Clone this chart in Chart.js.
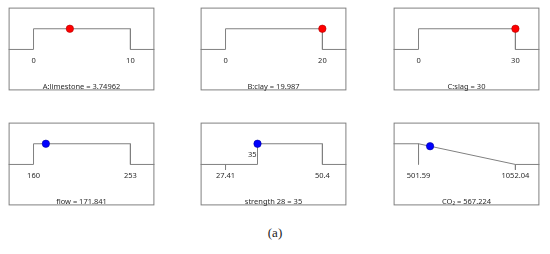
<!DOCTYPE html>
<html>
<head>
<meta charset="utf-8">
<script src="https://cdn.jsdelivr.net/npm/chart.js@4/dist/chart.umd.min.js"></script>
<style>
  html, body { margin: 0; padding: 0; background: #ffffff; }
  body { width: 550px; height: 254px; position: relative; overflow: hidden; }
  canvas { position: absolute; }
  #caption { position: absolute; left: 0; width: 550px; top: 225px; text-align: center;
             font-family: "Liberation Serif", "DejaVu Serif", serif; font-size: 13px; color: #222; }
</style>
</head>
<body>
<canvas id="p0"></canvas>
<canvas id="p1"></canvas>
<canvas id="p2"></canvas>
<canvas id="p3"></canvas>
<canvas id="p4"></canvas>
<canvas id="p5"></canvas>
<div id="caption">(a)</div>
<script>
// ---- data ----
const panelNames   = ["A:limestone", "B:clay", "C:slag", "flow", "strength 28", "CO\u2082"];
const currentLabels = ["3.74962", "19.987", "30", "171.841", "35", "567.224"];
const lowLimits    = [0, 0, 0, 160, 27.41, 501.59];
const highLimits   = [10, 20, 30, 253, 50.4, 1052.04];
const lowLabels    = ["0", "0", "0", "160", "27.41", "501.59"];
const highLabels   = ["10", "20", "30", "253", "50.4", "1052.04"];
const currentValues = [3.74962, 19.987, 30, 171.841, 35, 567.224];
const currentDesirability = [1, 1, 1, 1, 1, 0.8808];
const isFactor     = [true, true, true, false, false, false];

// desirability curve break points (x value, desirability)
const rangeCurveX    = [[0, 0, 10, 10], [0, 0, 20, 20], [0, 0, 30, 30], [160, 160, 253, 253], [35, 35, 50.4, 50.4], [501.59, 1052.04]];
const rangeCurveD    = [[0, 1, 1, 0], [0, 1, 1, 0], [0, 1, 1, 0], [0, 1, 1, 0], [0, 1, 1, 0], [1, 0]];
// extra limit tick segments (x, d from, d to)
const tickX    = [[], [], [], [], [27.41], [501.59, 1052.04]];
const tickFrom = [[], [], [], [], [0], [1, 0]];
const tickTo   = [[], [], [], [], [-0.26], [0, -0.26]];
// goal label shown at the step (strength 28)
const goalLabelX = [null, null, null, null, 35, null];
const goalLabelText = ["", "", "", "", "35", ""];

// ---- layout ----
const colLeft = [4, 196, 389];
const rowTop = [3, 118];
const W = 155, H = 92;
const LINE = '#808080';
const TEXT = '#2a2a2a';
const FONT = '7.5px "Noto Sans", "Open Sans", sans-serif';

const panelPlugin = {
  id: 'panelDeco',
  afterDraw(chart, args, o) {
    const ctx = chart.ctx, a = chart.chartArea;
    const xs = chart.scales.x, ys = chart.scales.y;
    const i = o.idx;
    ctx.save();
    ctx.strokeStyle = LINE; ctx.lineWidth = 1;
    ctx.strokeRect(a.left + 0.5, a.top + 0.5, a.right - a.left - 1, a.bottom - a.top - 1);
    ctx.fillStyle = TEXT; ctx.font = FONT;
    ctx.textAlign = 'center'; ctx.textBaseline = 'middle';
    const ly = ys.getPixelForValue(-0.54);
    ctx.fillText(lowLabels[i], xs.getPixelForValue(lowLimits[i]), ly);
    ctx.fillText(highLabels[i], xs.getPixelForValue(highLimits[i]), ly);
    ctx.fillText(panelNames[i] + " = " + currentLabels[i], (a.left + a.right) / 2, ys.getPixelForValue(-1.81));
    if (goalLabelX[i] !== null) {
      ctx.textAlign = 'right';
      ctx.fillText(goalLabelText[i], xs.getPixelForValue(goalLabelX[i]) - 1, ys.getPixelForValue(0.48));
    }
    ctx.restore();
  }
};

for (let i = 0; i < 6; i++) {
  const cv = document.getElementById('p' + i);
  cv.width = W; cv.height = H;
  cv.style.width = W + 'px'; cv.style.height = H + 'px';
  cv.style.left = colLeft[i % 3] + 'px';
  cv.style.top = rowTop[Math.floor(i / 3)] + 'px';

  const lo = lowLimits[i], hi = highLimits[i], span = hi - lo;
  const xmin = lo - 26.5 / 103 * span;
  const xmax = lo + 128.5 / 103 * span;

  const cx = rangeCurveX[i], cd = rangeCurveD[i];
  const curve = [{x: xmin, y: cd[0]}];
  for (let k = 0; k < cx.length; k++) curve.push({x: cx[k], y: cd[k]});
  curve.push({x: xmax, y: cd[cd.length - 1]});

  const ticks = [];
  for (let k = 0; k < tickX[i].length; k++) {
    ticks.push({x: tickX[i][k], y: tickFrom[i][k]});
    ticks.push({x: tickX[i][k], y: tickTo[i][k]});
    ticks.push({x: tickX[i][k], y: null});
  }

  const dotFill = isFactor[i] ? '#ff0000' : '#0000ff';
  const dotEdge = isFactor[i] ? '#b00000' : '#0000a0';

  new Chart(cv, {
    type: 'scatter',
    data: {
      datasets: [
        { data: [{x: currentValues[i], y: currentDesirability[i]}], pointRadius: 3.7,
          backgroundColor: dotFill, borderColor: dotEdge, borderWidth: 0.6, showLine: false, order: 0 },
        { data: curve, showLine: true, pointRadius: 0, borderColor: LINE, borderWidth: 1,
          fill: false, tension: 0, order: 1 },
        { data: ticks, showLine: true, spanGaps: false, pointRadius: 0, borderColor: LINE, borderWidth: 1,
          fill: false, order: 2 }
      ]
    },
    options: {
      responsive: false, animation: false, devicePixelRatio: 1,
      layout: { padding: 0 },
      events: [],
      clip: false,
      plugins: { legend: { display: false }, tooltip: { enabled: false }, panelDeco: { idx: i } },
      scales: {
        x: { type: 'linear', display: false, min: xmin, max: xmax },
        y: { type: 'linear', display: false, min: -(H - 46.5) / 23, max: 46.5 / 23 }
      }
    },
    plugins: [panelPlugin]
  });
}
</script>
</body>
</html>
